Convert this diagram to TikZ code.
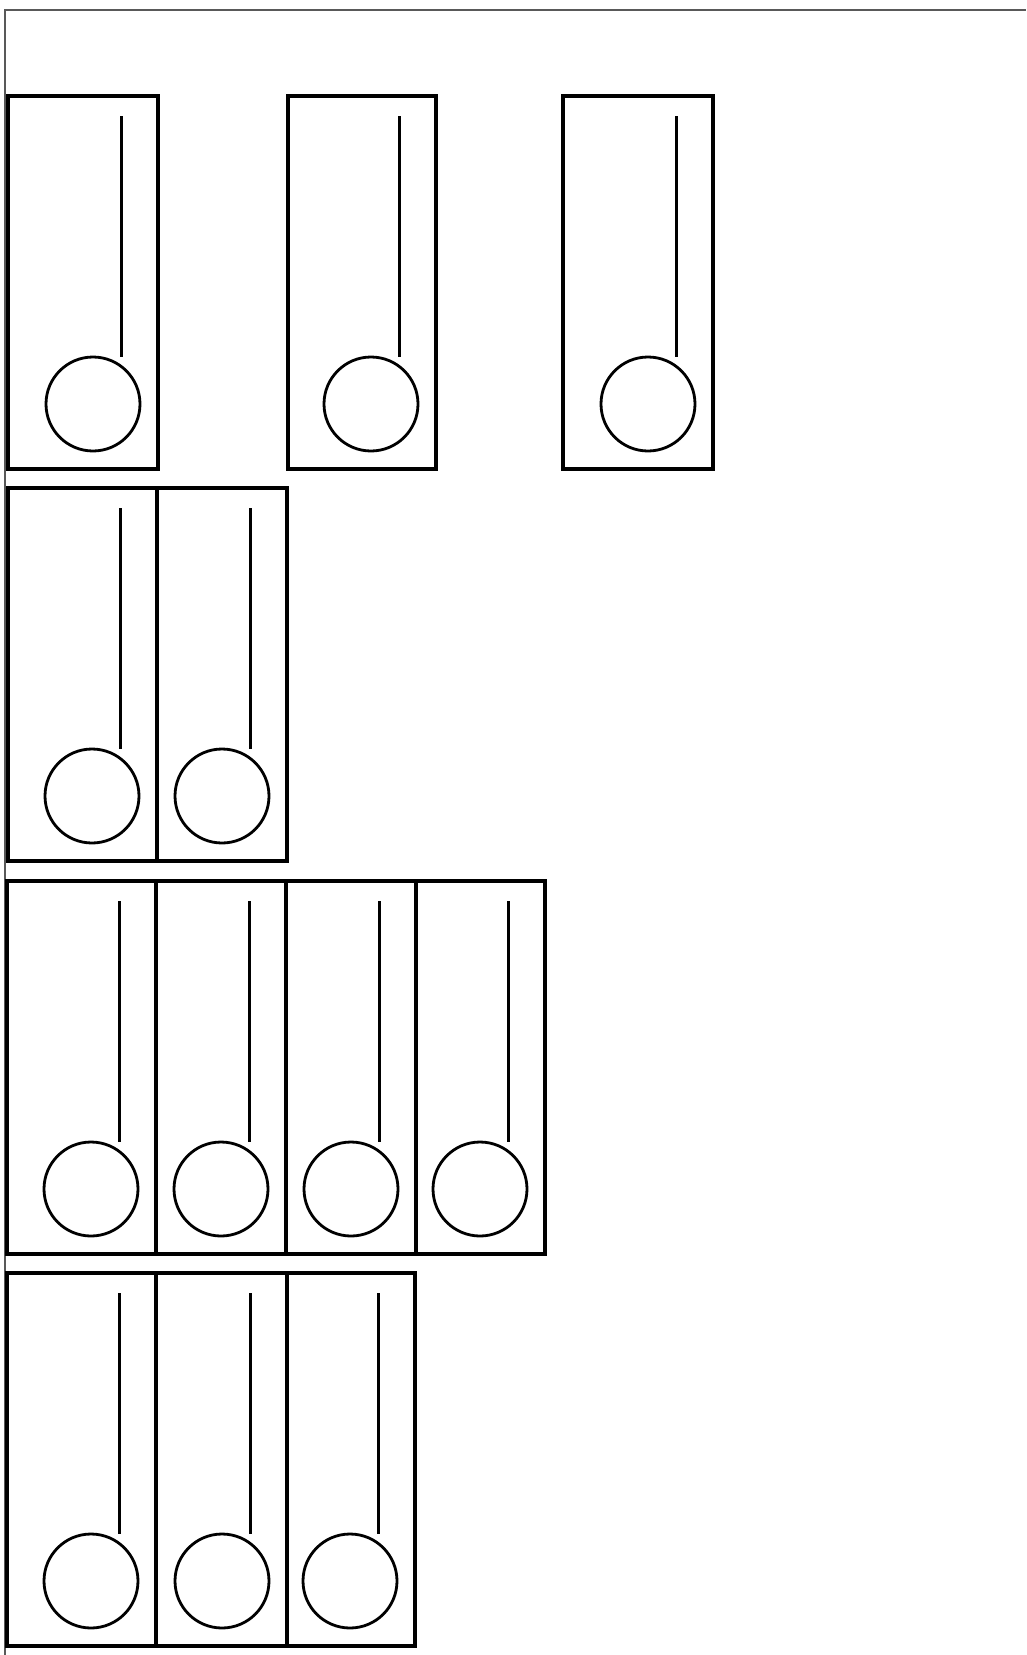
\documentclass[tikz,border=0pt]{standalone}
\begin{document}
\begin{tikzpicture}[x=1pt,y=-1pt,
  cell/.style={draw, line width=3.2pt, minimum width=#1, minimum height=373pt, inner sep=0pt, outer sep=0pt, anchor=north west},
  stem/.style={line width=3pt},
  bulb/.style={draw, circle, line width=2.8pt, minimum size=94pt, inner sep=0pt},
  frame/.style={line width=1.2pt, black!65}]
\useasboundingbox (0,0) rectangle (1026,1655);
\draw[frame] (5,1655) -- (5,10) -- (1026,10);
% row 1
\node[cell=150pt] (c11) at (8,96) {};
\node[cell=148pt] (c12) at (288,96) {};
\node[cell=150pt] (c13) at (563,96) {};
% row 2
\node[cell=149pt] (c21) at (8,488) {};
\node[cell=130pt] (c22) at (157,488) {};
% row 3
\node[cell=149pt] (c31) at (7,881) {};
\node[cell=130pt] (c32) at (156,881) {};
\node[cell=130pt] (c33) at (286,881) {};
\node[cell=129pt] (c34) at (416,881) {};
% row 4
\node[cell=149pt] (c41) at (7,1273) {};
\node[cell=131pt] (c42) at (156,1273) {};
\node[cell=128pt] (c43) at (287,1273) {};
\foreach \c in {c11,c12,c13,c21,c22,c31,c32,c33,c34,c41,c42,c43}{
  \draw[stem] ([xshift=-37pt,yshift=-20pt]\c.north east) -- ++(0pt,-241pt);
  \node[bulb] (b\c) at ([xshift=-65pt,yshift=-308pt]\c.north east) {};
}
\end{tikzpicture}
\end{document}
